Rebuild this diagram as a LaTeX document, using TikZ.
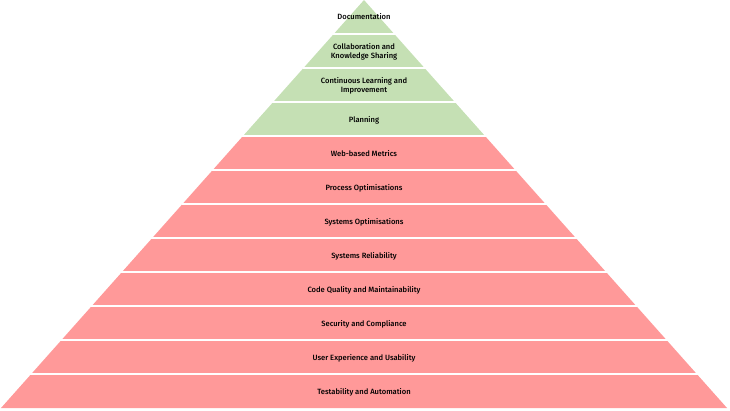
\documentclass[tikz,border=0pt]{standalone}
\usepackage{fontspec}
\setmainfont{Fira Sans}[UprightFont=* Medium]
\definecolor{topgreen}{RGB}{197,224,180}
\definecolor{lowred}{RGB}{255,153,153}
\tikzset{
  label/.style={font=\fontsize{7.6}{8.6}\selectfont, text=black, align=center, inner sep=0pt},
  sep/.style={white, line width=1.6pt}
}
\begin{document}
\begin{tikzpicture}[x=1pt,y=-1pt]
\useasboundingbox (0,0) rectangle (730,410);
\foreach \i in {0,...,11}{
  \pgfmathsetmacro{\yt}{34*\i}
  \pgfmathsetmacro{\yb}{34*(\i+1)}
  \pgfmathsetmacro{\ht}{0.889706*\yt}
  \pgfmathsetmacro{\hb}{0.889706*\yb}
  \ifnum\i<4 \def\bandcol{topgreen}\else\def\bandcol{lowred}\fi
  \fill[\bandcol] (364-\ht,\yt) -- (364+\ht,\yt) -- (364+\hb,\yb) -- (364-\hb,\yb) -- cycle;
}
\foreach \i in {1,...,11}{
  \pgfmathsetmacro{\yy}{34*\i}
  \pgfmathsetmacro{\hh}{0.889706*\yy}
  \draw[sep] (364-\hh-1,\yy) -- (364+\hh+1,\yy);
}
\node[label] (l1) at (364,17) {Documentation};
\node[label] (l2) at (364,52) {Collaboration and\\Knowledge Sharing};
\node[label] (l3) at (364,86) {Continuous Learning and\\Improvement};
\node[label] (l4) at (364,120) {Planning};
\node[label] (l5) at (364,154) {Web-based Metrics};
\node[label] (l6) at (364,188) {Process Optimisations};
\node[label] (l7) at (364,222) {Systems Optimisations};
\node[label] (l8) at (364,256) {Systems Reliability};
\node[label] (l9) at (364,290) {Code Quality and Maintainability};
\node[label] (l10) at (364,324) {Security and Compliance};
\node[label] (l11) at (364,358) {User Experience and Usability};
\node[label] (l12) at (364,392) {Testability and Automation};
\end{tikzpicture}
\end{document}
